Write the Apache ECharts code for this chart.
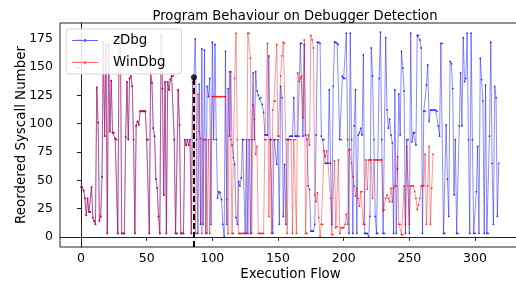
<!DOCTYPE html>
<html><head><meta charset="utf-8">
<script src="https://cdn.jsdelivr.net/npm/echarts@6/dist/echarts.min.js"></script>
<style>html,body{margin:0;padding:0;background:#fff}#c{width:516px;height:285px}</style>
</head><body><div id="c"></div>
<script>
// Values shared by both runs (indices 0..86, before divergence)
const sharedPrefix = [44,44,41,34,19,34,22,22,44,17,14,11,132,101,14,18,53,172,89,170,3,170,93,138,92,92,87,86,3,178,176,3,3,3,88,137,86,140,142,133,86,3,98,102,99,111,111,111,111,111,86,86,3,145,136,96,89,51,43,18,3,178,131,37,137,3,137,130,139,142,142,86,3,3,130,99,3,3,3,86,81,86,81,86,3,137,141];
// zDbg values after divergence (indices 87..318)
const zDbgTail = [175,86,3,135,11,166,11,165,3,133,124,140,11,172,86,170,86,34,40,39,33,11,0,
164,11,131,89,146,81,70,64,17,11,49,45,52,86,86,3,86,3,86,3,86,145,86,146,129,125,122,123,117,110,90,90,90,160,86,86,3,86,86,64,86,11,133,123,18,64,11,
86,86,89,89,89,123,89,89,89,89,171,171,89,170,90,86,45,42,5,5,5,11,90,172,172,171,89,86,86,65,65,65,130,65,11,133,172,172,171,170,86,
86,142,140,140,180,86,3,180,86,3,98,130,3,90,92,96,90,161,3,3,3,0,18,167,142,86,18,3,3,140,181,86,3,3,176,112,96,104,90,
83,3,130,3,60,126,90,164,149,129,3,86,86,3,180,84,92,92,81,178,178,174,167,3,111,111,134,152,102,112,112,112,112,112,111,98,89,171,171,3,
3,99,51,18,155,153,131,37,86,3,3,98,145,98,176,137,140,180,86,3,180,86,3,3,40,80,3,158,139,120,3,134,3,3,89,172,65,11,133,123,18,65];
// WinDbg values after divergence (indices 87..268)
const winDbgTail = [3,3,126,93,87,3,86,86,86,3,86,3,86,124,124,124,124,124,124,124,124,124,
124,124,33,3,146,86,3,3,140,180,86,3,3,3,3,3,3,3,180,180,158,3,117,104,73,80,3,3,3,3,3,86,86,171,18,86,3,112,120,120,170,89,89,142,
160,172,171,86,3,86,86,86,3,86,86,3,145,137,140,142,105,174,3,3,90,81,178,174,167,37,31,39,17,0,11,11,76,71,76,65,65,34,2,2,
67,8,9,68,3,8,8,8,11,20,11,77,77,65,53,45,36,43,34,27,40,40,11,11,68,42,68,68,68,34,68,68,68,68,68,68,68,23,24,34,37,34,31,43,31,43,
45,45,71,11,11,2,2,45,11,80,45,11,45,45,45,40,34,24,28,34,45,45,45,73,11,45,80,11,43,73];
const xTicks = [0,50,100,150,200,250,300];
const yTicks = [0,25,50,75,100,125,150,175];
const divergeX = 86;
const divergeY = 141;

const zDbg = sharedPrefix.concat(zDbgTail);
const winDbg = sharedPrefix.concat(winDbgTail);
const toPairs = a => a.map((v, i) => [i, v]);
const FONT = 'DejaVu Sans';
// legend handle: thin line with a tiny marker in the middle
const HANDLE = 'path://M0,4.5L26,4.5L26,5.5L0,5.5Z M12,3.5L14,3.5L14,6.5L12,6.5Z';

const chart = echarts.init(document.getElementById('c'), null, {renderer: 'canvas'});
chart.setOption({
  animation: false,
  backgroundColor: '#fff',
  textStyle: {fontFamily: FONT},
  title: {
    text: 'Program Behaviour on Debugger Detection',
    left: 290, top: 5, textAlign: 'center',
    textStyle: {fontFamily: FONT, fontSize: 13.2, fontWeight: 'normal', color: '#000'}
  },
  grid: {left: 60, right: -5, top: 23, bottom: 38, outerBoundsMode: 'none', containLabel: false,
         show: true, borderColor: '#222', borderWidth: 1},
  legend: {
    data: [{name: 'zDbg', icon: HANDLE}, {name: 'WinDbg', icon: HANDLE}],
    orient: 'vertical', left: 66, top: 29,
    itemWidth: 26, itemHeight: 10, itemGap: 9,
    padding: [5, 16, 5, 6],
    itemStyle: {opacity: 0.6},
    backgroundColor: 'rgba(255,255,255,0.85)',
    borderColor: '#d6d6d6', borderWidth: 1, borderRadius: 3,
    textStyle: {fontFamily: FONT, fontSize: 13.4, color: '#000', padding: [0, 0, 0, 10]}
  },
  xAxis: {
    type: 'value', min: -16, max: 335,
    name: 'Execution Flow', nameLocation: 'middle', nameGap: 21, nameMoveOverlap: false,
    nameTextStyle: {fontFamily: FONT, fontSize: 13.4, color: '#000'},
    axisLine: {lineStyle: {color: '#222', width: 1}},
    axisTick: {show: true, length: 4, customValues: xTicks, lineStyle: {color: '#222'}},
    axisLabel: {customValues: xTicks, margin: 5, fontFamily: FONT, fontSize: 12.5, color: '#000'},
    splitLine: {show: false}
  },
  yAxis: {
    type: 'value', min: -9, max: 189,
    name: 'Reordered Syscall Number', nameLocation: 'middle', nameGap: 32, nameMoveOverlap: false,
    nameTextStyle: {fontFamily: FONT, fontSize: 13.4, color: '#000'},
    axisLine: {show: true, lineStyle: {color: '#222', width: 1}},
    axisTick: {show: true, length: 4, customValues: yTicks, lineStyle: {color: '#222'}},
    axisLabel: {customValues: yTicks, margin: 7, fontFamily: FONT, fontSize: 12.5, color: '#000'},
    splitLine: {show: false}
  },
  series: [
    {
      name: 'zDbg', type: 'line', data: toPairs(zDbg),
      symbol: 'circle', symbolSize: 1.8, showAllSymbol: true,
      itemStyle: {color: '#0000ff', opacity: 0.75},
      lineStyle: {color: '#0000ff', width: 1, opacity: 0.45},
      z: 2
    },
    {
      name: 'WinDbg', type: 'line', data: toPairs(winDbg),
      symbol: 'circle', symbolSize: 1.8, showAllSymbol: true,
      itemStyle: {color: '#ff0000', opacity: 0.75},
      lineStyle: {color: '#ff0000', width: 1, opacity: 0.4},
      z: 3
    },
    {
      name: 'divergence', type: 'line', data: [[divergeX, -9], [divergeX, divergeY]],
      symbol: 'none', silent: true,
      lineStyle: {color: '#000', width: 2, type: [6, 3]},
      z: 4
    },
    {
      name: 'divergencePoint', type: 'scatter', data: [[divergeX, divergeY]],
      symbolSize: 6, itemStyle: {color: '#000'}, silent: true, z: 5
    }
  ]
});
</script>
</body></html>
